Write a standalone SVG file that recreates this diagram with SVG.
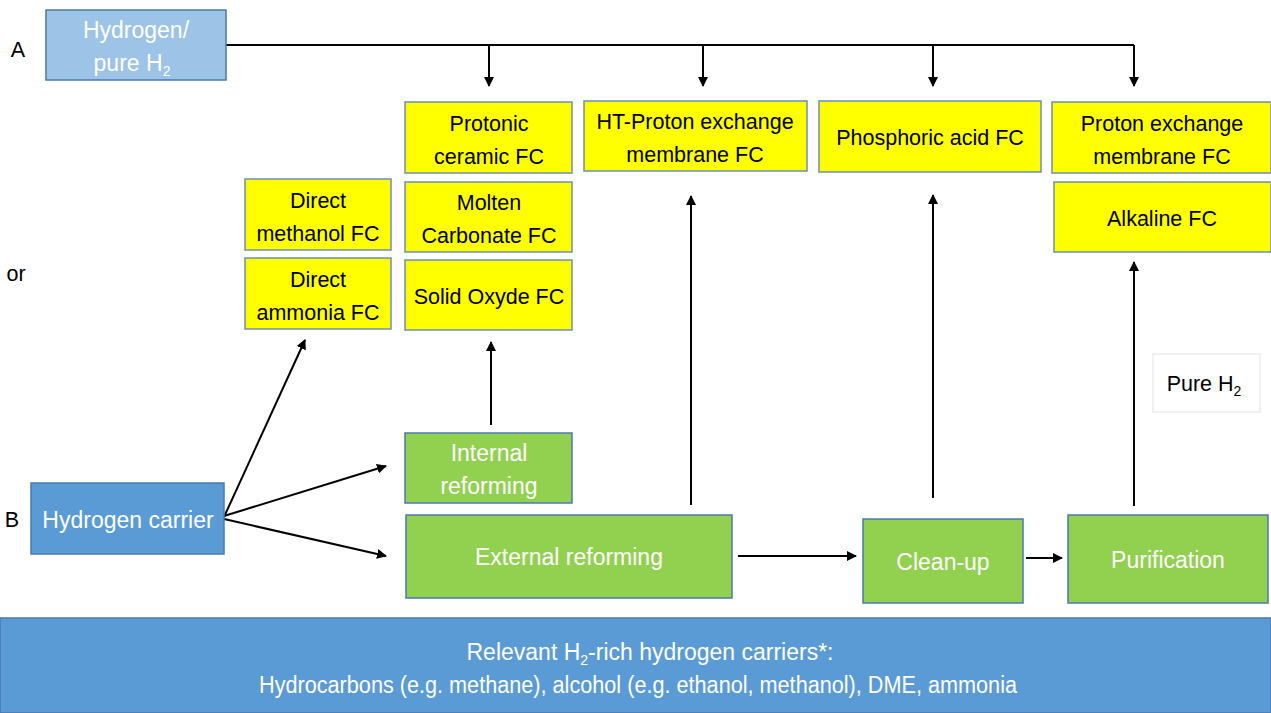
<svg xmlns="http://www.w3.org/2000/svg" width="1271" height="713" viewBox="0 0 1271 713">
<style>
text{font-family:"Liberation Sans",Arial,sans-serif;font-size:21.5px;text-anchor:middle}
.y{fill:#FFFF00;stroke:#6F8FB4;stroke-width:1.5}
.g{fill:#92D050;stroke:#4A7AAE;stroke-width:1.5}
.b{fill:#5B9BD5;stroke:#4A7AAE;stroke-width:1.5}
.lb{fill:#9DC3E6;stroke:#4A7AAE;stroke-width:1.5}
.w{fill:#FFFFFF;font-size:23px}
.k{fill:#000000}
.c{stroke:#000;stroke-width:2;fill:none}
</style>
<defs>
<marker id="ah" viewBox="0 0 10 10" refX="9" refY="5" markerWidth="5" markerHeight="5" orient="auto" markerUnits="strokeWidth">
<path d="M0,0 L10,5 L0,10 z" fill="#000"/>
</marker>
</defs>
<rect width="1271" height="713" fill="#fff"/>
<g id="labels">
<text x="18" y="57" class="k" font-size="21">A</text>
<text x="16" y="281" class="k" font-size="21">or</text>
<text x="12" y="527" class="k" font-size="21">B</text>
</g>
<g id="connectors">
<path class="c" d="M226,45 H1134"/>
<path class="c" d="M489,45 V86" marker-end="url(#ah)"/>
<path class="c" d="M703,45 V86" marker-end="url(#ah)"/>
<path class="c" d="M933,45 V86" marker-end="url(#ah)"/>
<path class="c" d="M1134,45 V86" marker-end="url(#ah)"/>
<path class="c" d="M224,517 L305,340" marker-end="url(#ah)"/>
<path class="c" d="M224,516 L386,466" marker-end="url(#ah)"/>
<path class="c" d="M224,519 L386,556" marker-end="url(#ah)"/>
<path class="c" d="M491,425 V342" marker-end="url(#ah)"/>
<path class="c" d="M691,505 V196" marker-end="url(#ah)"/>
<path class="c" d="M933,498 V195" marker-end="url(#ah)"/>
<path class="c" d="M1134,506 V262" marker-end="url(#ah)"/>
<path class="c" d="M738,556 H856" marker-end="url(#ah)"/>
<path class="c" d="M1026,558 H1062" marker-end="url(#ah)"/>
</g>
<g id="hydrogen">
<rect class="lb" x="46" y="10" width="180" height="70"/>
<text class="w" x="136" y="38">Hydrogen/</text>
<text class="w" x="132" y="71">pure H<tspan font-size="14" dy="5">2</tspan></text>
</g>
<g id="protonic">
<rect class="y" x="405" y="102" width="167" height="71"/>
<text class="k" x="489" y="131">Protonic</text>
<text class="k" x="489" y="164">ceramic FC</text>
</g>
<g id="molten">
<rect class="y" x="405" y="182" width="167" height="70"/>
<text class="k" x="489" y="210">Molten</text>
<text class="k" x="489" y="243">Carbonate FC</text>
</g>
<g id="solid">
<rect class="y" x="405" y="260" width="167" height="70"/>
<text class="k" x="489" y="304">Solid Oxyde FC</text>
</g>
<g id="methanol">
<rect class="y" x="245" y="179" width="146" height="71"/>
<text class="k" x="318" y="208">Direct</text>
<text class="k" x="318" y="241">methanol FC</text>
</g>
<g id="ammonia">
<rect class="y" x="245" y="258" width="146" height="71"/>
<text class="k" x="318" y="287">Direct</text>
<text class="k" x="318" y="320">ammonia FC</text>
</g>
<g id="htpem">
<rect class="y" x="584" y="101" width="223" height="70"/>
<text class="k" x="695" y="129">HT-Proton exchange</text>
<text class="k" x="695" y="162">membrane FC</text>
</g>
<g id="phosphoric">
<rect class="y" x="819" y="101" width="222" height="71"/>
<text class="k" x="930" y="145">Phosphoric acid FC</text>
</g>
<g id="pem">
<rect class="y" x="1052" y="102" width="219" height="71"/>
<text class="k" x="1162" y="131">Proton exchange</text>
<text class="k" x="1162" y="164">membrane FC</text>
</g>
<g id="alkaline">
<rect class="y" x="1054" y="182" width="217" height="70"/>
<text class="k" x="1162" y="226">Alkaline FC</text>
</g>
<g id="pureh2">
<rect x="1153" y="354" width="107" height="58" fill="#fff" stroke="#E4E4E4" stroke-width="1"/>
<text class="k" x="1204" y="391">Pure H<tspan font-size="14" dy="5">2</tspan></text>
</g>
<g id="internal">
<rect class="g" x="405" y="433" width="167" height="70"/>
<text class="w" x="489" y="461">Internal</text>
<text class="w" x="489" y="494">reforming</text>
</g>
<g id="external">
<rect class="g" x="406" y="515" width="326" height="83"/>
<text class="w" x="569" y="565">External reforming</text>
</g>
<g id="cleanup">
<rect class="g" x="863" y="519" width="160" height="84"/>
<text class="w" x="943" y="570">Clean-up</text>
</g>
<g id="purification">
<rect class="g" x="1068" y="515" width="200" height="88"/>
<text class="w" x="1168" y="568">Purification</text>
</g>
<g id="carrier">
<rect class="b" x="31" y="483" width="193" height="71"/>
<text class="w" x="128" y="528">Hydrogen carrier</text>
</g>
<g id="carriers-note">
<rect x="0" y="618" width="1271" height="95" fill="#5B9BD5" stroke="#4A7AAE" stroke-width="1.5"/>
<text class="w" x="650" y="660" font-size="22.5">Relevant H<tspan font-size="14" dy="5">2</tspan><tspan dy="-5">-rich hydrogen carriers*:</tspan></text>
<text class="w" x="638" y="693" textLength="758" lengthAdjust="spacingAndGlyphs">Hydrocarbons (e.g. methane), alcohol (e.g. ethanol, methanol), DME, ammonia</text>
</g>
</svg>
